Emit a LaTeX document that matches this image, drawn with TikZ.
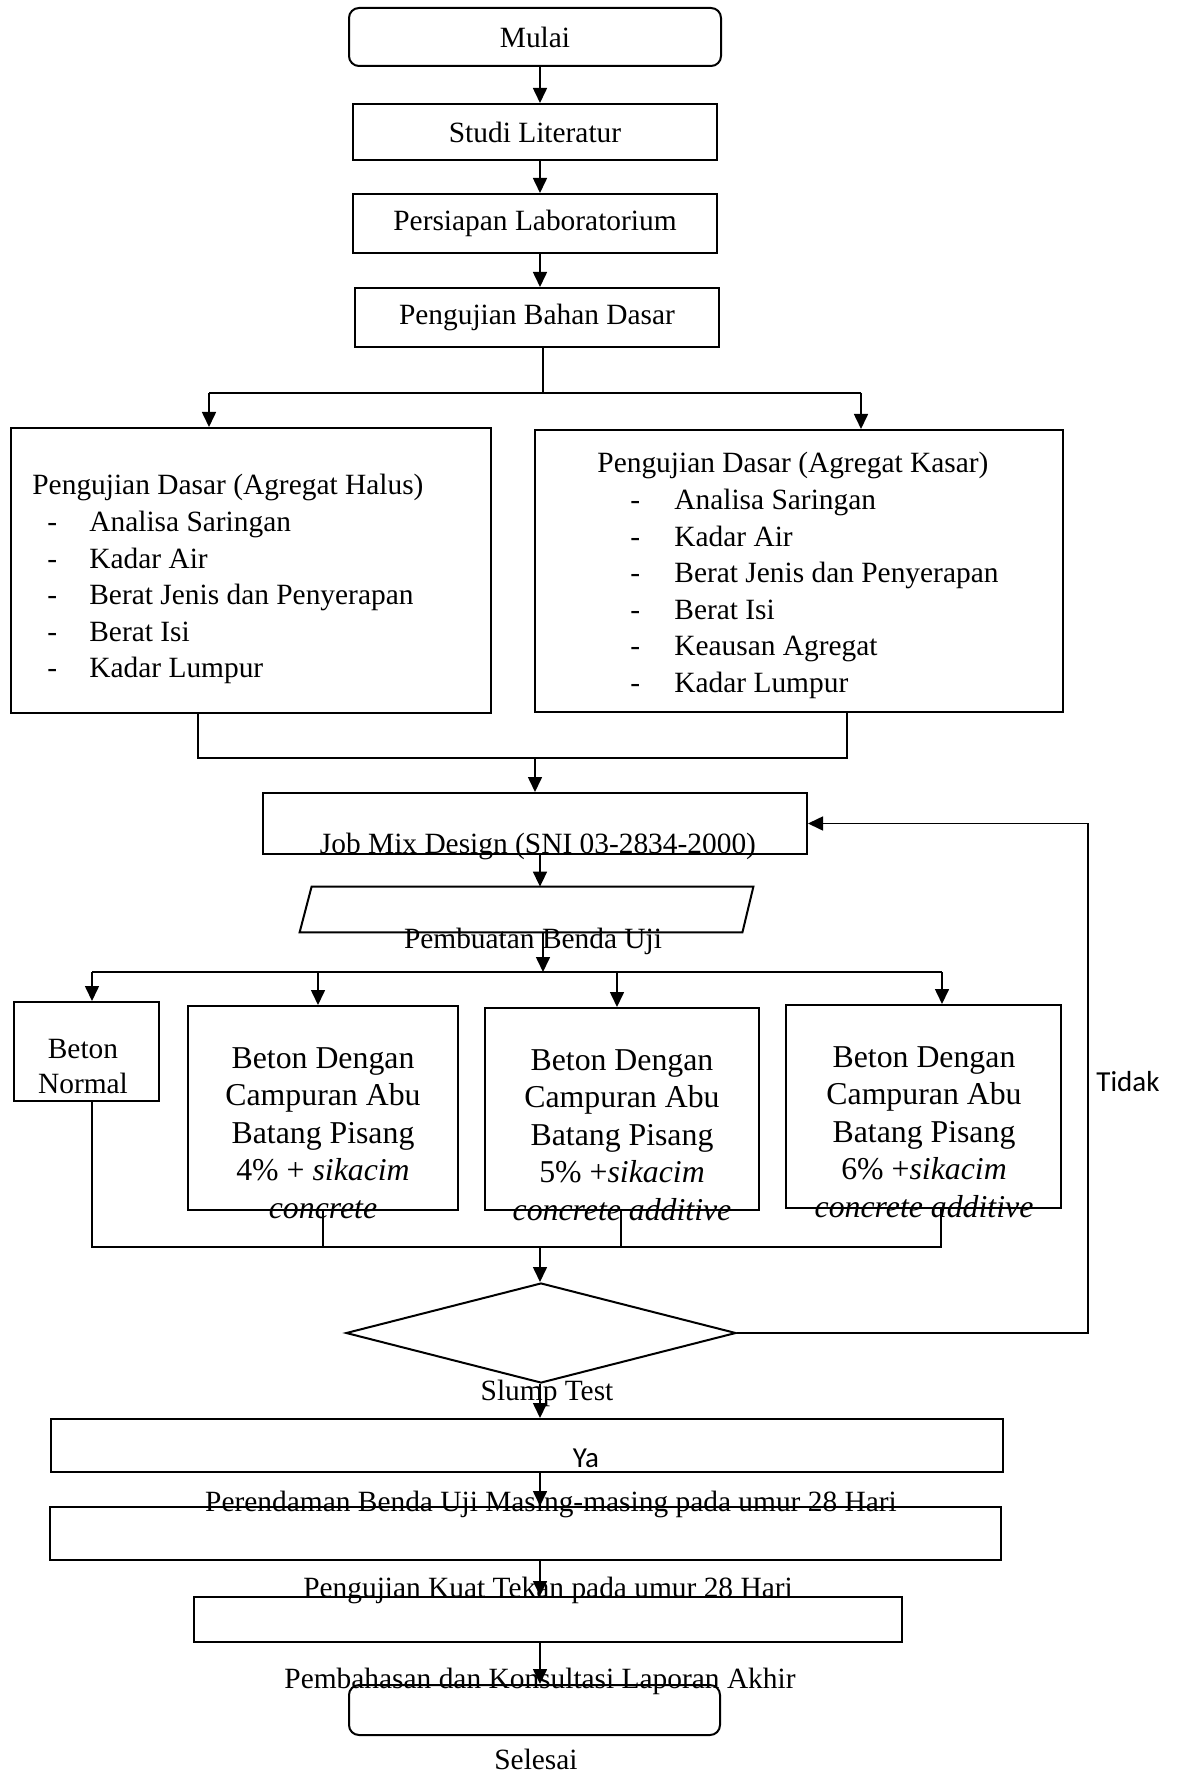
\documentclass[tikz,border=0pt]{standalone}
\usepackage{fontspec}
\setmainfont{Liberation Serif}
\newfontfamily\calibrifont{Carlito}
\usetikzlibrary{arrows.meta,shapes.geometric,calc}

\begin{document}
\begin{tikzpicture}
    \tikzset{x=0.5pt,y=-0.5pt,every path/.style={>={Triangle[length=7.5pt,width=7pt]}},
      box/.style={draw,line width=1pt,inner sep=0pt},
      txt/.style={font=\fontsize{14.7}{18.3}\selectfont,inner sep=0pt},
      big txt/.style={font=\fontsize{15.9}{18.75}\selectfont,inner sep=0pt,align=center},
      sans txt/.style={font=\calibrifont\fontsize{14.5}{17}\selectfont,inner sep=0pt},
      arrow line/.style={line width=0.8pt,->},
      plain line/.style={line width=0.55pt}}
    \useasboundingbox (0,0) rectangle (1178,1775);
    % boxes
    \node [box,txt,rounded corners=5pt,minimum width=186pt,minimum height=29pt] (mulai) at (535,37) {\raisebox{-1pt}{Mulai}};
    \node [box,txt,minimum width=182pt,minimum height=28pt] (studi) at (535,132) {Studi Literatur};
    \node [box,txt,minimum width=182pt,minimum height=29.5pt] (persiapan) at (535,223.5) {\raisebox{-1pt}{Persiapan Laboratorium}};
    \node [box,txt,minimum width=182pt,minimum height=29.5pt] (bahan) at (537,317.5) {\raisebox{-1pt}{Pengujian Bahan Dasar}};
    \node [box,minimum width=240pt,minimum height=142.5pt] (halus) at (251,570.5) {};
    \node [box,minimum width=264pt,minimum height=141pt] (kasar) at (799,571) {};
    \node [box,minimum width=272pt,minimum height=30.5pt] (jmd) at (535,823.5) {};
    \node [inner sep=0pt,minimum width=226.5pt,minimum height=22.5pt] (benda) at (526.5,909.5) {};
    \draw[line width=1pt] (benda.south west) -- ([xshift=6pt]benda.north west) -- (benda.north east)
      -- ([xshift=-5.5pt]benda.south east) -- cycle;
    \node [box,minimum width=72.5pt,minimum height=49.5pt] (normal) at (86.5,1051.5) {};
    \node [box,minimum width=135pt,minimum height=102pt] (abu4) at (323,1108) {};
    \node [box,minimum width=137pt,minimum height=101pt] (abu5) at (622,1109) {};
    \node [box,minimum width=137.5pt,minimum height=101.5pt] (abu6) at (923.5,1106.5) {};
    \node [box,diamond,minimum width=195pt,minimum height=50pt] (slump) at (541,1333) {};
    \node [box,minimum width=476pt,minimum height=26.5pt] (rendam) at (527,1445.5) {};
    \node [box,minimum width=475.5pt,minimum height=26.5pt] (tekan) at (525.5,1533.5) {};
    \node [box,minimum width=354pt,minimum height=22.5pt] (bahas) at (548,1619.5) {};
    \node [box,rounded corners=5pt,minimum width=185.5pt,minimum height=25pt] (selesai) at (534.5,1710) {};
    % texts
    \node [txt,align=left,anchor=north west] (halustxt) at (32,474) {Pengujian Dasar (Agregat Halus)\\
      \hspace*{7.5pt}\makebox[21pt][l]{-}Analisa Saringan\\
      \hspace*{7.5pt}\makebox[21pt][l]{-}Kadar Air\\
      \hspace*{7.5pt}\makebox[21pt][l]{-}Berat Jenis dan Penyerapan\\
      \hspace*{7.5pt}\makebox[21pt][l]{-}Berat Isi\\
      \hspace*{7.5pt}\makebox[21pt][l]{-}Kadar Lumpur};
    \node [txt,align=left,anchor=north west] (kasartxt) at (597,452) {Pengujian Dasar (Agregat Kasar)\\
      \hspace*{16.5pt}\makebox[22pt][l]{-}Analisa Saringan\\
      \hspace*{16.5pt}\makebox[22pt][l]{-}Kadar Air\\
      \hspace*{16.5pt}\makebox[22pt][l]{-}Berat Jenis dan Penyerapan\\
      \hspace*{16.5pt}\makebox[22pt][l]{-}Berat Isi\\
      \hspace*{16.5pt}\makebox[22pt][l]{-}Keausan Agregat\\
      \hspace*{16.5pt}\makebox[22pt][l]{-}Kadar Lumpur};
    \node [txt,anchor=base] (jmdtxt) at (538,853) {Job Mix Design (SNI 03-2834-2000)};
    \node [txt,anchor=base] (bendatxt) at (533,948) {Pembuatan Benda Uji};
    \node [txt,align=center,font=\fontsize{14.7}{17.5}\selectfont] (normaltxt) at (83,1067) {Beton\\Normal};
    \node [big txt] (abu4txt) at (323,1133) {Beton Dengan\\Campuran Abu\\Batang Pisang\\4\% + \textit{sikacim}\\\textit{concrete}};
    \node [big txt] (abu5txt) at (622,1135) {Beton Dengan\\Campuran Abu\\Batang Pisang\\5\% +\textit{sikacim}\\\textit{concrete additive}};
    \node [big txt] (abu6txt) at (924,1132) {Beton Dengan\\Campuran Abu\\Batang Pisang\\6\% +\textit{sikacim}\\\textit{concrete additive}};
    \node [sans txt,anchor=base] (tidak) at (1128,1091) {Tidak};
    \node [txt,anchor=base] (slumptxt) at (547,1400) {Slump Test};
    \node [sans txt,anchor=base] (ya) at (586,1467) {Ya};
    \node [txt,anchor=base] (rendamtxt) at (551,1511) {Perendaman Benda Uji Masing-masing pada umur 28 Hari};
    \node [txt,anchor=base] (tekantxt) at (548,1597) {Pengujian Kuat Tekan pada umur 28 Hari};
    \node [txt,anchor=base] (bahastxt) at (540,1688) {Pembahasan dan Konsultasi Laporan Akhir};
    \node [txt,anchor=base] (selesaitxt) at (536,1769) {Selesai};
    % connectors
    \coordinate (col) at (540,0);
    \draw[arrow line] (col |- mulai.south) -- (col |- studi.north);
    \draw[arrow line] (col |- studi.south) -- (col |- persiapan.north);
    \draw[arrow line] (col |- persiapan.south) -- (col |- bahan.north);
    \coordinate (h1) at (209,393);
    \coordinate (h2) at (861,393);
    \draw[plain line] ([xshift=1.5pt]col |- bahan.south) -- ([xshift=1.5pt]col |- h1);
    \draw[plain line] (h1) -- (h2);
    \draw[arrow line] (h1) -- (h1 |- halus.north);
    \draw[arrow line] (h2) -- (h2 |- kasar.north);
    \coordinate (g1) at (198,758);
    \coordinate (g2) at (847,758);
    \draw[plain line] (g1 |- halus.south) -- (g1) -- (g2) -- (g2 |- kasar.south);
    \draw[arrow line] (jmd.north |- g1) -- (jmd.north);
    \draw[arrow line] (col |- jmd.south) -- (col |- benda.north);
    \coordinate (c1) at (92,972);
    \coordinate (c2) at (318,972);
    \coordinate (c3) at (617,972);
    \coordinate (c4) at (942,972);
    \draw[arrow line] ([xshift=1.5pt]col |- benda.south) -- ([xshift=1.5pt]col |- c1);
    \draw[plain line] (c1) -- (c4);
    \draw[arrow line] (c1) -- (c1 |- normal.north);
    \draw[arrow line] (c2) -- (c2 |- abu4.north);
    \draw[arrow line] (c3) -- (c3 |- abu5.north);
    \draw[arrow line] (c4) -- (c4 |- abu6.north);
    \coordinate (d1) at (92,1247);
    \coordinate (d2) at (323,1247);
    \coordinate (d3) at (621,1247);
    \coordinate (d4) at (941,1247);
    \draw[plain line] (d1 |- normal.south) -- (d1) -- (d4) -- (d4 |- abu6.south);
    \draw[plain line] (d2 |- abu4.south) -- (d2);
    \draw[plain line] (d3 |- abu5.south) -- (d3);
    \draw[arrow line] (col |- d1) -- (col |- slump.north);
    \coordinate (fb) at (1088,825);
    \draw[arrow line] (slump.east) -| (fb |- jmd.east) -- (jmd.east);
    \draw[arrow line] (col |- slump.south) -- (col |- rendam.north);
    \draw[arrow line] (col |- rendam.south) -- (col |- tekan.north);
    \draw[arrow line] (col |- tekan.south) -- (col |- bahas.north);
    \draw[arrow line] (col |- bahas.south) -- (col |- selesai.north);
\end{tikzpicture}
\end{document}
